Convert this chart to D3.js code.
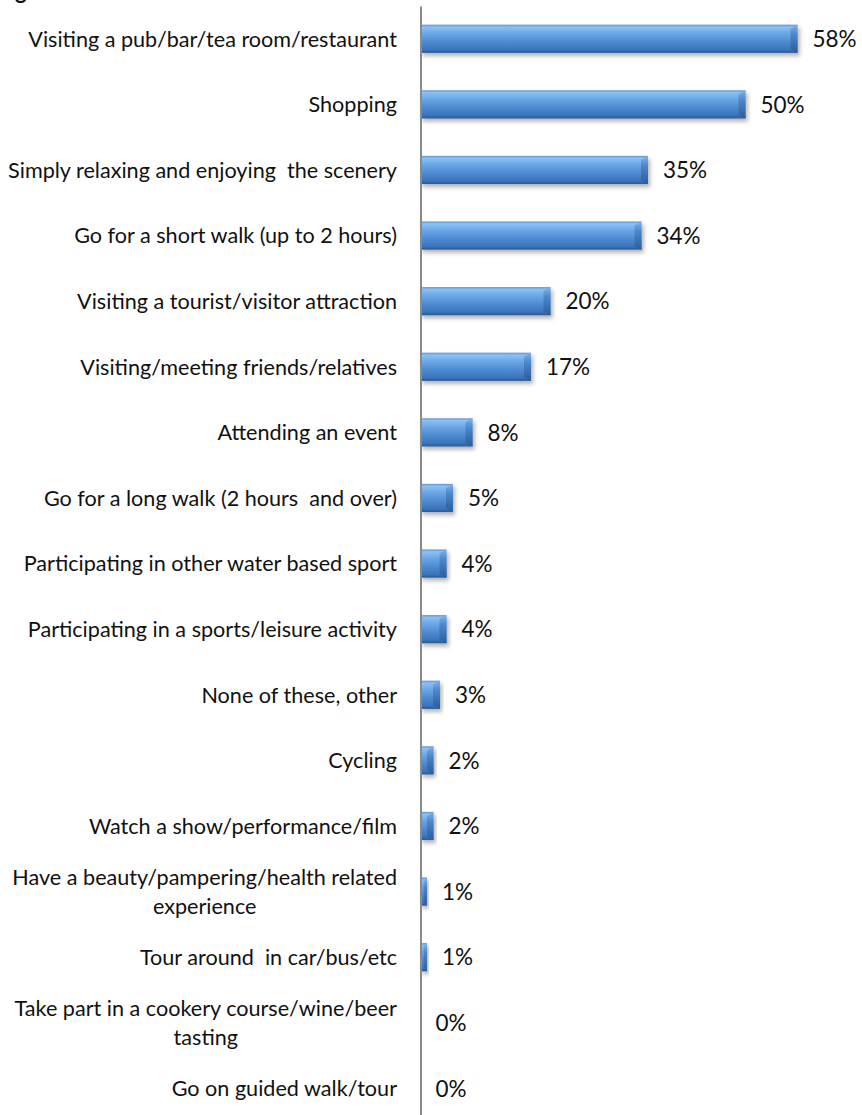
<!DOCTYPE html>
<html>
<head>
<meta charset="utf-8">
<script src="https://cdn.jsdelivr.net/npm/d3@7"></script>
<style>
  html, body { margin: 0; padding: 0; background: #fff; }
  svg { display: block; }
  text { font-family: Lato, "Open Sans", sans-serif; fill: #111; }
</style>
</head>
<body>
<svg id="chart" width="862" height="1115"></svg>
<script>
// ---- data ----
const categories = [
  ["Visiting a pub/bar/tea room/restaurant"],
  ["Shopping"],
  ["Simply relaxing and enjoying  the scenery"],
  ["Go for a short walk (up to 2 hours)"],
  ["Visiting a tourist/visitor attraction"],
  ["Visiting/meeting friends/relatives"],
  ["Attending an event"],
  ["Go for a long walk (2 hours  and over)"],
  ["Participating in other water based sport"],
  ["Participating in a sports/leisure activity"],
  ["None of these, other"],
  ["Cycling"],
  ["Watch a show/performance/film"],
  ["Have a beauty/pampering/health related", "experience"],
  ["Tour around  in car/bus/etc"],
  ["Take part in a cookery course/wine/beer", "tasting"],
  ["Go on guided walk/tour"]
];
const values = [58, 50, 35, 34, 20, 17, 8, 5, 4, 4, 3, 2, 2, 1, 1, 0, 0];
const valueLabels = ["58%", "50%", "35%", "34%", "20%", "17%", "8%", "5%", "4%", "4%", "3%", "2%", "2%", "1%", "1%", "0%", "0%"];

const rows = categories.map((c, i) => ({ key: "c" + i, lines: c, value: values[i], label: valueLabels[i] }));

const svg = d3.select("#chart");
const axisX = 420.5;
const catFont = 21.6;
const valFont = 22.5;

const x = d3.scaleLinear().domain([0, 60]).range([axisX, axisX + 60 * 6.5]);
const y = d3.scaleBand()
  .domain(rows.map(d => d.key))
  .range([6, 6 + 17 * 65.6])
  .paddingInner(0.57)
  .paddingOuter(0.285);

// defs
const defs = svg.append("defs");
const g1 = defs.append("linearGradient").attr("id", "barGrad").attr("x1", 0).attr("y1", 0).attr("x2", 0).attr("y2", 1);
[[0, "#5a91d4"], [0.08, "#8cc2f3"], [0.3, "#6ca8e7"], [0.6, "#4f8bd2"], [0.88, "#3b74bb"], [1, "#285a95"]]
  .forEach(([o, c]) => g1.append("stop").attr("offset", o).attr("stop-color", c));
const g2 = defs.append("linearGradient").attr("id", "bevelGrad").attr("x1", 0).attr("y1", 0).attr("x2", 0).attr("y2", 1);
[[0, "#7fb3e8"], [0.35, "#4c86cb"], [1, "#2b5c97"]]
  .forEach(([o, c]) => g2.append("stop").attr("offset", o).attr("stop-color", c));
const f = defs.append("filter").attr("id", "shadow").attr("x", "-20%").attr("y", "-40%").attr("width", "140%").attr("height", "200%");
f.append("feDropShadow").attr("dx", 2).attr("dy", 3).attr("stdDeviation", 2).attr("flood-color", "#000").attr("flood-opacity", 0.3);

// partial title (cut off at top, as in the reference)
svg.append("text").attr("x", 15).attr("y", -1).attr("font-size", 22).attr("font-weight", "bold").text("g");

// bars
const bars = svg.append("g").selectAll("g.bar").data(rows.filter(d => d.value > 0)).join("g").attr("class", "bar")
  .attr("filter", "url(#shadow)");
bars.append("rect")
  .attr("x", x(0))
  .attr("y", d => y(d.key))
  .attr("width", d => x(d.value) - x(0))
  .attr("height", y.bandwidth())
  .attr("fill", "url(#barGrad)");
bars.append("path")
  .attr("d", d => {
    const x1 = x(d.value), y0 = y(d.key), y1 = y0 + y.bandwidth();
    const w = Math.min(7, (x1 - x(0)) / 2);
    return `M${x1 - w},${y0 + 4}L${x1},${y0}L${x1},${y1}L${x1 - w},${y1 - 4}Z`;
  })
  .attr("fill", "url(#bevelGrad)");

// axis line
const axis = d3.axisLeft(y).tickValues([]).tickSize(0).tickSizeOuter(0);
svg.append("g").attr("transform", `translate(${axisX},0)`).call(axis)
  .call(g => g.select(".domain").attr("stroke", "#8a8a8a").attr("stroke-width", 2));

// value labels
svg.append("g").selectAll("text").data(rows).join("text")
  .attr("x", d => x(d.value) + 15)
  .attr("y", d => y(d.key) + y.bandwidth() / 2)
  .attr("dy", "0.36em")
  .attr("font-size", valFont)
  .text(d => d.label);

// category labels
const labelRight = 397;
const lg = svg.append("g");
rows.forEach(d => {
  const cy = y(d.key) + y.bandwidth() / 2;
  const lineH = 29;
  const t = lg.append("text").attr("font-size", catFont).attr("xml:space", "preserve");
  if (d.lines.length === 1) {
    t.attr("x", labelRight).attr("y", cy).attr("dy", "0.36em").attr("text-anchor", "end").text(d.lines[0]);
  } else {
    const tmp = lg.append("text").attr("font-size", catFont);
    let maxW = 0;
    d.lines.forEach(l => { tmp.text(l); maxW = Math.max(maxW, tmp.node().getComputedTextLength()); });
    tmp.remove();
    const cx = labelRight - maxW / 2;
    t.attr("text-anchor", "middle");
    d.lines.forEach((l, i) => {
      t.append("tspan").attr("x", cx)
        .attr("y", cy + (i - (d.lines.length - 1) / 2) * lineH)
        .attr("dy", "0.36em").text(l);
    });
  }
});
</script>
</body>
</html>
